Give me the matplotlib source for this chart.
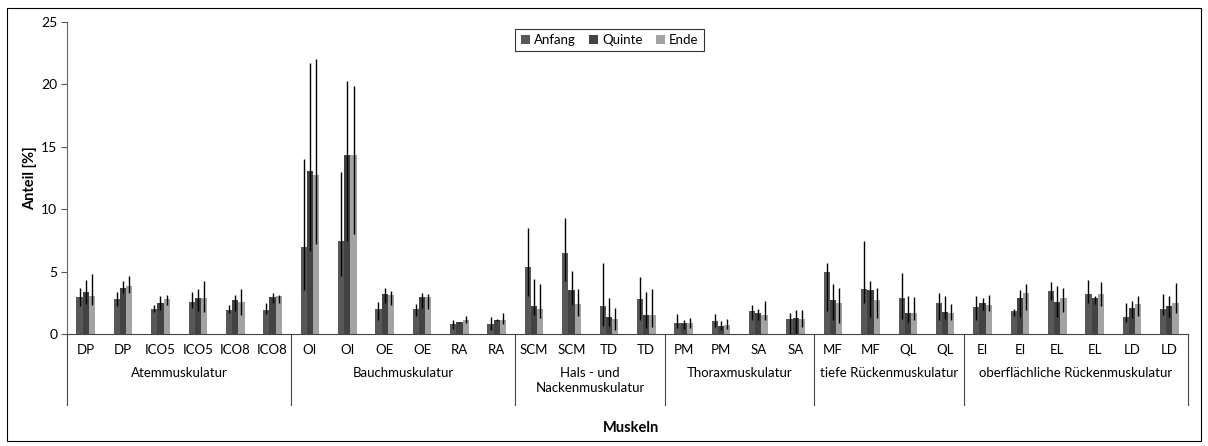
import matplotlib.pyplot as plt
import numpy as np
from matplotlib.patches import Rectangle

plt.rcParams['font.family'] = ['Lato', 'DejaVu Sans']

# Muskeln (untere Ebene) und Gruppen (obere Ebene)
muskeln = ["DP", "DP", "ICO5", "ICO5", "ICO8", "ICO8",
           "OI", "OI", "OE", "OE", "RA", "RA",
           "SCM", "SCM", "TD", "TD",
           "PM", "PM", "SA", "SA",
           "MF", "MF", "QL", "QL",
           "EI", "EI", "EL", "EL", "LD", "LD"]
gruppen = ["Atemmuskulatur", "Bauchmuskulatur", "Hals - und\nNackenmuskulatur",
           "Thoraxmuskulatur", "tiefe Rückenmuskulatur",
           "oberflächliche Rückenmuskulatur"]
gruppen_n = [6, 6, 4, 4, 4, 6]

serien = ["Anfang", "Quinte", "Ende"]
farben = ["#585858", "#434343", "#a3a3a3"]

# Mittelwerte
anfang = [2.95, 2.78, 2.0, 2.6, 1.93, 1.93,
          6.96, 7.42, 1.98, 2.03, 0.78, 0.78,
          5.35, 6.53, 2.28, 2.78,
          0.86, 1.02, 1.82, 1.23,
          5.0, 3.59, 2.92, 2.52,
          2.2, 1.85, 3.45, 3.19, 1.37, 2.03]
quinte = [3.35, 3.69, 2.52, 2.86, 2.7, 2.95,
          13.07, 14.32, 3.21, 2.97, 0.94, 1.12,
          2.28, 3.53, 1.37, 1.53,
          0.86, 0.64, 1.66, 1.31,
          2.76, 3.51, 1.66, 1.74,
          2.52, 2.86, 2.6, 2.86, 2.12, 2.28]
ende = [3.03, 3.86, 2.78, 2.86, 2.6, 3.03,
        12.72, 14.32, 3.13, 2.97, 1.1, 1.12,
        2.0, 2.44, 1.2, 1.53,
        0.86, 0.75, 1.5, 1.23,
        2.52, 2.76, 1.66, 1.66,
        2.33, 3.29, 2.86, 3.19, 2.44, 2.52]

# obere / untere Enden der Fehlerbalken
anfang_hi = [3.72, 3.37, 2.3, 3.4, 2.3, 2.46,
             14.0, 13.0, 2.6, 2.41, 1.15, 1.39,
             8.49, 9.32, 5.68, 4.55,
             1.58, 1.58, 2.36, 1.71,
             5.7, 7.44, 4.87, 3.29,
             3.05, 2.0, 4.15, 4.31, 2.46, 3.21]
anfang_lo = [2.25, 2.25, 1.74, 2.06, 1.66, 1.6,
             3.53, 4.69, 1.15, 1.42, 0.4, 0.32,
             3.05, 4.28, 0.64, 1.12,
             0.46, 0.54, 1.1, 0.0,
             1.82, 2.46, 1.18, 1.1,
             1.12, 1.47, 2.73, 2.52, 0.94, 1.53]
quinte_hi = [4.31, 4.23, 3.05, 3.64, 3.13, 3.29,
             21.69, 20.24, 3.67, 3.27, 1.0, 1.2,
             4.42, 5.06, 2.89, 3.4,
             1.12, 1.02, 2.03, 1.95,
             4.04, 4.28, 3.03, 3.03,
             2.92, 3.51, 3.83, 3.08, 2.65, 3.05]
quinte_lo = [2.38, 3.29, 1.9, 1.87, 1.85, 2.52,
             6.64, 7.44, 2.52, 2.09, 0.88, 1.05,
             1.53, 2.33, 0.64, 0.46,
             0.4, 0.32, 1.15, 0.0,
             1.1, 1.37, 0.96, 1.18,
             1.93, 1.37, 1.34, 2.38, 1.26, 1.37]
ende_hi = [4.79, 4.63, 3.13, 4.23, 3.64, 3.13,
           22.0, 19.84, 3.48, 3.21, 1.47, 1.66,
           4.02, 3.64, 2.06, 3.64,
           1.31, 1.23, 2.62, 1.95,
           3.72, 3.72, 2.95, 2.38,
           3.13, 3.99, 3.67, 4.15, 3.05, 4.07]
ende_lo = [2.33, 3.27, 2.36, 1.74, 1.53, 2.46,
           7.18, 8.03, 2.36, 2.03, 0.91, 0.8,
           1.31, 1.45, 0.32, 0.59,
           0.46, 0.4, 1.1, 0.56,
           0.88, 1.29, 1.1, 1.1,
           1.87, 1.93, 1.79, 2.25, 1.47, 1.71]

werte = [anfang, quinte, ende]
his = [anfang_hi, quinte_hi, ende_hi]
los = [anfang_lo, quinte_lo, ende_lo]

fig = plt.figure(figsize=(12.08, 4.46), dpi=100)
ax = fig.add_axes([0.0555, 0.251, 0.928, 0.6997])

x = np.arange(len(muskeln))
w = 0.166
for i in range(3):
    m = np.array(werte[i])
    yerr = [m - np.array(los[i]), np.array(his[i]) - m]
    ax.bar(x + (i - 1) * w, m, width=w, color=farben[i], label=serien[i],
           yerr=yerr, error_kw=dict(ecolor="black", elinewidth=1, capsize=0),
           zorder=2)

ax.set_xlim(-0.5, len(muskeln) - 0.5)
ax.set_ylim(0, 25)
ax.set_yticks([0, 5, 10, 15, 20, 25])
ax.tick_params(axis="y", labelsize=10, length=4, width=0.8, color="#555555", pad=3)
ax.set_xticks([])
for s in ["top", "right"]:
    ax.spines[s].set_visible(False)
ax.spines["left"].set_color("#666666")
ax.spines["bottom"].set_color("#444444")
ax.set_ylabel("Anteil [%]", fontsize=10.5, fontweight="bold", labelpad=3)

# mehrstufige Kategorieachse
tr = ax.get_xaxis_transform()
for i, name in enumerate(muskeln):
    ax.text(i, -0.051, name, transform=tr, ha="center", va="center", fontsize=9.5)
start = 0
grenzen = [-0.5]
for g, n in zip(gruppen, gruppen_n):
    mitte = start + (n - 1) / 2
    if "\n" in g:
        ax.text(mitte, -0.149, g, transform=tr, ha="center", va="center",
                fontsize=9.5, linespacing=1.3)
    else:
        ax.text(mitte, -0.125, g, transform=tr, ha="center", va="center", fontsize=9.5)
    start += n
    grenzen.append(start - 0.5)
for gx in grenzen:
    ax.plot([gx, gx], [0, -0.227], transform=tr, color="#444444", lw=0.8,
            clip_on=False)

fig.text(0.522, 0.04, "Muskeln", ha="center", va="center", fontsize=10.5,
         fontweight="bold")

leg = ax.legend(loc="upper center", bbox_to_anchor=(0.484, 1.0), ncol=3,
                fontsize=9.5, frameon=True, fancybox=False, handlelength=0.7,
                handleheight=0.7, handletextpad=0.3, columnspacing=1.0,
                borderpad=0.4)
leg.get_frame().set_edgecolor("black")
leg.get_frame().set_linewidth(0.8)

fig.patches.append(Rectangle((0.006, 0.012), 0.988, 0.97, transform=fig.transFigure,
                             fill=False, edgecolor="black", lw=0.8))

fig.savefig("out.png", dpi=100)
